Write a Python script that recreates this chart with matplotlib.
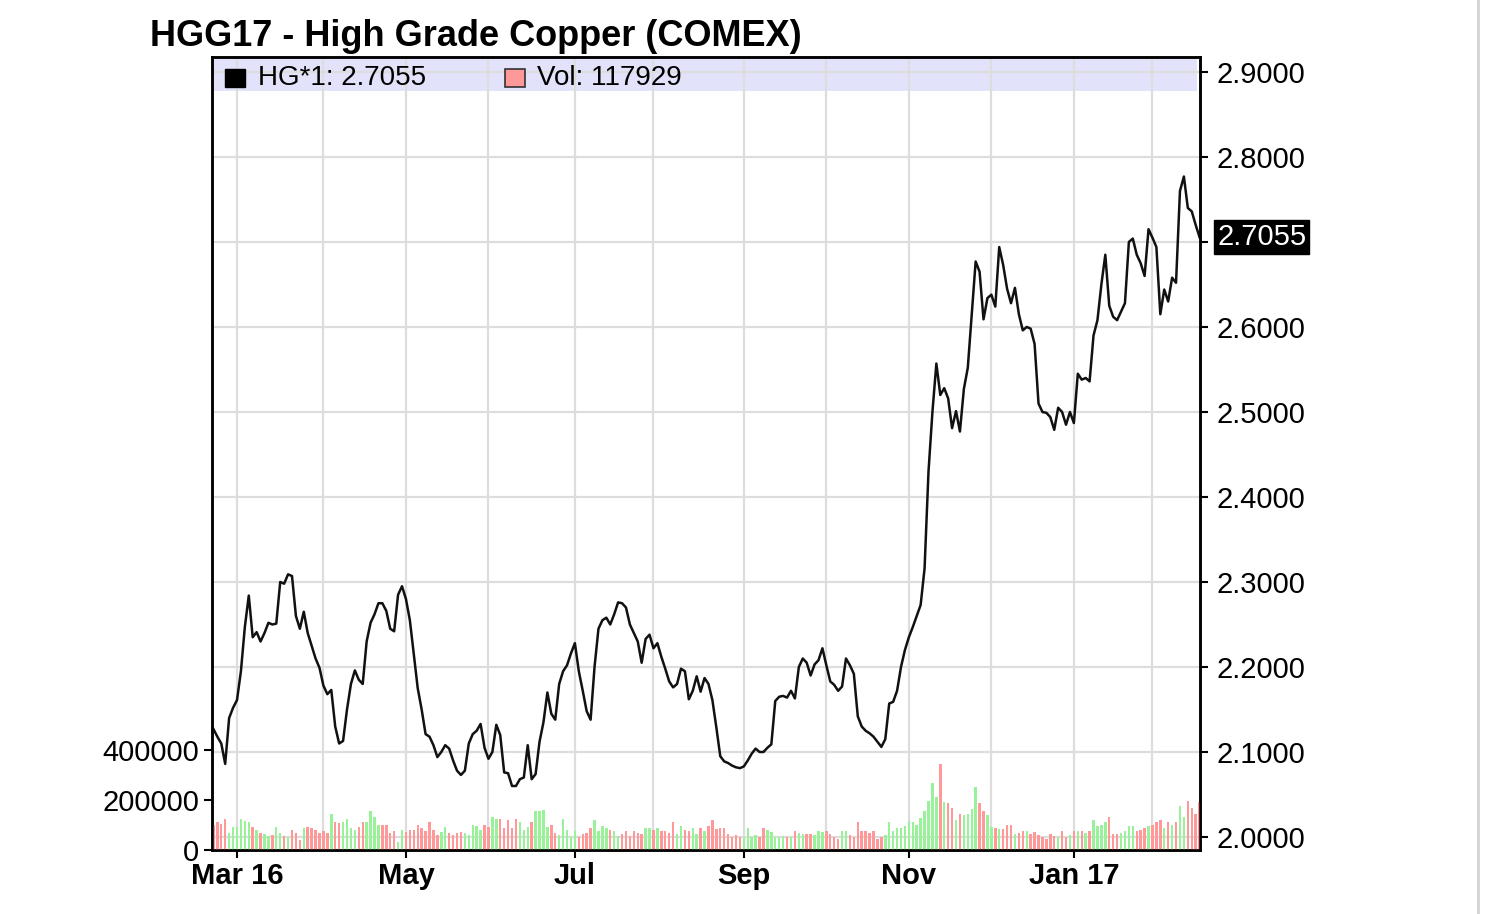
import numpy as np
import pandas as pd
import matplotlib
matplotlib.use("Agg")
import matplotlib.pyplot as plt
from matplotlib.patches import Rectangle
from matplotlib.lines import Line2D
from matplotlib.ticker import FixedLocator, FixedFormatter
import matplotlib.transforms as mtransforms

plt.rcParams['font.family'] = ['Liberation Sans', 'DejaVu Sans']

# ---------------- data ----------------
title = "HGG17 - High Grade Copper (COMEX)"
holidays = ["2016-03-25", "2016-05-30", "2016-07-04", "2016-09-05",
            "2016-11-24", "2016-12-26", "2017-01-02", "2017-01-16"]
dates = pd.bdate_range("2016-02-22", "2017-02-17", freq="C", holidays=holidays)

prices = [
    2.127, 2.118, 2.110, 2.086, 2.140, 2.152,
    2.161, 2.195, 2.247, 2.284, 2.235, 2.241, 2.230, 2.240, 2.252, 2.250,
    2.251, 2.300, 2.298, 2.309, 2.307, 2.260, 2.245, 2.265, 2.240, 2.225,
    2.210, 2.199, 2.178, 2.168, 2.173, 2.130, 2.110, 2.113, 2.150, 2.180,
    2.196, 2.185, 2.180, 2.230, 2.252, 2.262, 2.275, 2.275, 2.266, 2.245,
    2.242, 2.285, 2.295, 2.280, 2.255, 2.215,
    2.175, 2.150, 2.121, 2.118,
    2.108, 2.094, 2.100, 2.108, 2.104, 2.090, 2.078, 2.073, 2.078, 2.110,
    2.121, 2.125, 2.133, 2.105, 2.092, 2.100, 2.132, 2.120, 2.076, 2.075,
    2.060, 2.060, 2.068, 2.070, 2.108, 2.068, 2.074, 2.112, 2.135, 2.170,
    2.145, 2.138, 2.180, 2.195, 2.202, 2.216, 2.228, 2.195, 2.172, 2.148,
    2.138, 2.200, 2.245, 2.255, 2.258, 2.250, 2.262,
    2.276, 2.275, 2.270, 2.250, 2.240, 2.230, 2.205, 2.233, 2.238, 2.222,
    2.228, 2.212, 2.198, 2.183, 2.176, 2.180, 2.198, 2.195, 2.162, 2.172,
    2.189, 2.171, 2.187, 2.180, 2.161, 2.129, 2.095, 2.089, 2.087, 2.084,
    2.082, 2.081, 2.083, 2.090, 2.098, 2.104, 2.100, 2.100, 2.105, 2.109,
    2.160, 2.165, 2.166, 2.164, 2.172, 2.163, 2.200, 2.210, 2.205, 2.190,
    2.203, 2.208, 2.222, 2.202, 2.183, 2.179, 2.172, 2.177, 2.210, 2.202,
    2.192, 2.142, 2.130, 2.125, 2.122, 2.118, 2.112, 2.106, 2.115, 2.157,
    2.159, 2.172, 2.200, 2.220, 2.235, 2.247, 2.260, 2.273, 2.316, 2.430,
    2.500, 2.557, 2.520, 2.528, 2.516, 2.481, 2.501, 2.477, 2.527, 2.552,
    2.614, 2.677, 2.665, 2.609, 2.634, 2.638, 2.624, 2.694, 2.673, 2.645,
    2.628, 2.646, 2.615, 2.596, 2.600, 2.598, 2.580, 2.510, 2.500, 2.499,
    2.494, 2.479, 2.505, 2.500, 2.485, 2.500, 2.487, 2.545, 2.538, 2.540,
    2.536, 2.590, 2.608, 2.650, 2.685, 2.625, 2.612, 2.608, 2.618, 2.628,
    2.700, 2.704, 2.685, 2.675, 2.660, 2.715, 2.705, 2.694, 2.615, 2.644,
    2.630, 2.658, 2.652, 2.760, 2.777, 2.740, 2.736, 2.720, 2.7055,
]

volumes_k = [
    100, 113, 104, 123, 67, 91, 91, 123, 117, 113,
    91, 80, 67, 64, 56, 60, 91, 67, 56, 53,
    80, 67, 40, 87, 91, 87, 80, 67, 77, 67,
    144, 113, 107, 113, 123, 87, 80, 91, 113, 113,
    157, 133, 100, 100, 100, 67, 77, 33, 80, 73,
    80, 80, 100, 87, 77, 113, 80, 60, 73, 91,
    67, 60, 67, 73, 67, 60, 100, 96, 80, 100,
    93, 133, 123, 123, 87, 120, 87, 123, 113, 80,
    93, 113, 157, 157, 160, 91, 100, 67, 60, 123,
    80, 53,
    77, 51, 64, 70, 88, 120, 77, 95, 88, 80,
    77, 57, 65, 77, 57, 77, 70, 64, 88, 88,
    80, 88, 77, 77, 70, 111, 64, 97, 80, 77,
    88, 64, 88, 75, 97, 120, 84, 90, 88, 64,
    51, 60, 51, 51, 88, 51, 60, 53, 88, 80,
    71, 51, 51, 55, 51, 51, 77, 70, 64, 64,
    64, 60, 77, 71, 77, 65, 51, 44, 77, 77,
    60, 51, 111, 77, 77, 70, 77, 44, 51, 60,
    111, 77, 88, 90, 97, 117, 111, 101, 130, 155,
    197, 267, 211, 344, 191, 187, 168, 120, 144, 141,
    144, 164, 253, 187, 155, 141, 93, 90, 84, 84,
    101, 101, 64, 70, 77, 77, 64, 71, 60, 53,
    44, 64, 55, 51, 77, 51, 60, 77, 77, 77,
    70, 77, 120, 97, 100, 111, 131, 64, 64, 70,
    77, 97, 97, 77, 80, 88, 97, 100, 111, 120,
    88, 111, 100, 111, 177, 131, 197, 170, 144, 191,
]

label_months = ["Mar 16", "May", "Jul", "Sep", "Nov", "Jan 17"]
price_ticks = [2.0, 2.1, 2.2, 2.3, 2.4, 2.5, 2.6, 2.7, 2.8, 2.9]
vol_ticks = [0, 200000, 400000]
legend_vol = 117929

# ---------------- derived ----------------
prices = np.array(prices)
volumes = np.array(volumes_k) * 1000.0
n = len(dates)
x = np.arange(n)
chg = np.diff(prices, prepend=prices[0])
up_color, down_color = '#99f299', '#ff9898'
bar_colors = [up_color if c > 0 else down_color for c in chg]

month = np.asarray(dates.month)
month_starts = list(np.where(month[1:] != month[:-1])[0] + 1)
labeled_starts = [m for m in month_starts if month[m] % 2 == 1]

# ---------------- figure ----------------
W, H = 1486, 914
fig = plt.figure(figsize=(W / 100, H / 100), dpi=100)
L, R, T, B = 212, 1200, 57, 850
ax_v = fig.add_axes([L / W, 1 - B / H, (R - L) / W, (B - T) / H])
ax_p = ax_v.twinx()

ax_p.set_zorder(1)
ax_v.set_zorder(2)
ax_p.patch.set_visible(True)
ax_p.patch.set_facecolor('white')
ax_v.patch.set_visible(False)

ax_v.set_xlim(-0.36, n - 1 + 0.1)
ax_p.set_ylim(1.9847, 2.9176)
ax_v.set_ylim(0, 3.172e6)

grid_c = '#dddddd'
# legend band
ax_p.add_patch(Rectangle((0.002, 0.957), 0.995, 0.0405, transform=ax_p.transAxes,
                         facecolor='#e2e2fb', edgecolor='none', zorder=0.4))
for p in price_ticks:
    ax_p.axhline(p, color=grid_c, lw=1.6, zorder=0.6)
for m in month_starts:
    ax_p.axvline(x[m], color=grid_c, lw=1.6, zorder=0.6)

ax_p.plot(x, prices, color='#111111', lw=1.8, zorder=3, solid_joinstyle='round')

ax_v.bar(x, volumes, width=0.62, color=bar_colors, linewidth=0, zorder=2)

# ticks (the tick hidden under the last-price box gets no label)
last = prices[-1]
price_labels = ['' if abs(p - last) < 0.03 else f"{p:.4f}" for p in price_ticks]
ax_p.yaxis.set_major_locator(FixedLocator(price_ticks))
ax_p.yaxis.set_major_formatter(FixedFormatter(price_labels))
ax_p.tick_params(axis='y', direction='out', length=6, width=1.5, pad=6, labelsize=21)

ax_v.set_yticks(vol_ticks)
ax_v.set_yticklabels([str(v) for v in vol_ticks])
ax_v.tick_params(axis='y', direction='out', length=6, width=1.5, pad=3, labelsize=21)

ax_v.set_xticks(x[labeled_starts])
ax_v.set_xticklabels(label_months, fontweight='bold')
ax_v.tick_params(axis='x', direction='out', length=6, width=1.5, pad=3, labelsize=21)

for a in (ax_v, ax_p):
    for s in a.spines.values():
        s.set_linewidth(1.8)
        s.set_color('black')

# legend
ax_v.add_patch(Rectangle((0.0132, 0.9622), 0.0202, 0.0227, transform=ax_v.transAxes,
                         facecolor='black', edgecolor='black', lw=1, zorder=5))
ax_v.text(0.0466, 0.9735, f"HG*1: {last:.4f}", transform=ax_v.transAxes,
          fontsize=20, va='center', ha='left', zorder=5)
ax_v.add_patch(Rectangle((0.2966, 0.9622), 0.0202, 0.0227, transform=ax_v.transAxes,
                         facecolor=down_color, edgecolor='#333333', lw=1.2, zorder=5))
ax_v.text(0.329, 0.9735, f"Vol: {legend_vol}", transform=ax_v.transAxes,
          fontsize=20, va='center', ha='left', zorder=5)

# last price box
trans = mtransforms.blended_transform_factory(ax_v.transAxes, ax_p.transData)
ax_v.text(1.0175, last, f"{last:.4f}", transform=trans, fontsize=21,
          color='white', va='center', ha='left', zorder=10, clip_on=False,
          bbox=dict(facecolor='black', edgecolor='black', boxstyle='square,pad=0.1'))

fig.text(150 / W, 1 - 36 / H, title, fontsize=26, fontweight='bold', va='center', ha='left')
fig.add_artist(Line2D([1478 / W, 1478 / W], [0, 1], transform=fig.transFigure,
                      color='#d4d4d4', lw=2))

fig.savefig("out.png", dpi=100)
